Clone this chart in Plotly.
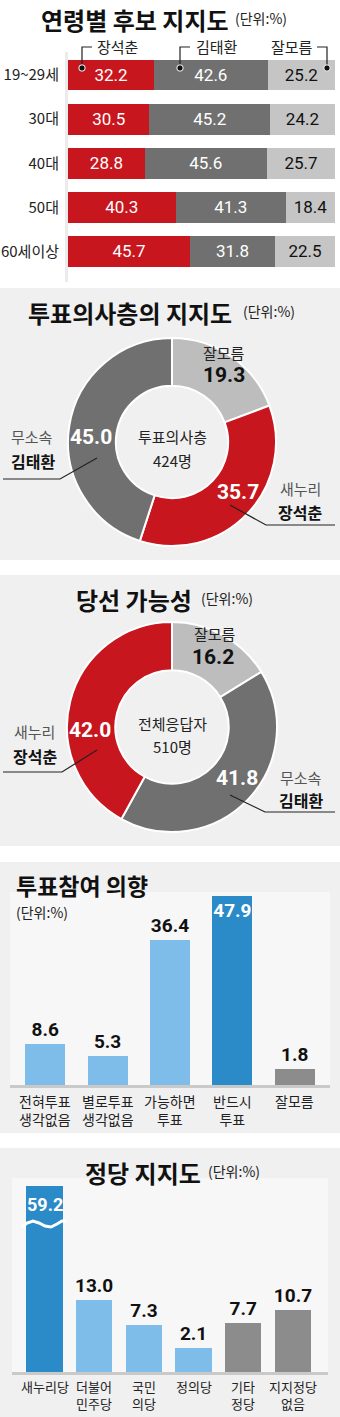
import plotly.graph_objects as go

W, H = 340, 1417
def px(x): return x / W
def py(y): return 1 - y / H

KR = "Noto Sans CJK KR"
NUM = "Roboto"

RED = "#c8161e"
DG = "#707070"
LG = "#c5c5c5"
PLG = "#bdbdbd"
LB = "#7ebcea"
DB = "#2b8ac8"
GR = "#8c8c8c"

# ---------------- data ----------------
age_groups = ["19~29세", "30대", "40대", "50대", "60세이상"]
jang_age = [32.2, 30.5, 28.8, 40.3, 45.7]
kim_age = [42.6, 45.2, 45.6, 41.3, 31.8]
unk_age = [25.2, 24.2, 25.7, 18.4, 22.5]
age_series = ["장석춘", "김태환", "잘모름"]

vote_labels = ["잘모름", "장석춘", "김태환"]
vote_values = [19.3, 35.7, 45.0]

win_labels = ["잘모름", "김태환", "장석춘"]
win_values = [16.2, 41.8, 42.0]

intent_cats = [["전혀투표", "생각없음"], ["별로투표", "생각없음"], ["가능하면", "투표"], ["반드시", "투표"], ["잘모름"]]
intent_vals = [8.6, 5.3, 36.4, 47.9, 1.8]

party_cats = [["새누리당"], ["더불어", "민주당"], ["국민", "의당"], ["정의당"], ["기타", "정당"], ["지지정당", "없음"]]
party_vals = [59.2, 13.0, 7.3, 2.1, 7.7, 10.7]

intent_keys = [" ".join(c) for c in intent_cats]
party_keys = [" ".join(c) for c in party_cats]

fig = go.Figure()

# ---------------- section 1: stacked horizontal bars ----------------
for name, vals, col, tcol in [(age_series[0], jang_age, RED, "white"),
                              (age_series[1], kim_age, DG, "white"),
                              (age_series[2], unk_age, LG, "#111")]:
    fig.add_trace(go.Bar(
        y=age_groups, x=vals, orientation="h", name=name,
        marker=dict(color=col, line=dict(width=0)), width=0.7,
        text=[f"{v:.1f}" for v in vals], textposition="inside",
        insidetextanchor="middle", constraintext="none", textangle=0,
        textfont=dict(family=NUM, size=17, color=tcol),
        xaxis="x", yaxis="y", showlegend=False, hoverinfo="skip"))

# ---------------- pies ----------------
C1 = (172, 442); R1 = 104
fig.add_trace(go.Pie(
    labels=vote_labels, values=vote_values, hole=0.54, sort=False,
    direction="clockwise", rotation=0,
    marker=dict(colors=[PLG, RED, DG], line=dict(color="white", width=2)),
    textinfo="none", showlegend=False, hoverinfo="skip",
    domain=dict(x=[px(C1[0] - R1), px(C1[0] + R1)], y=[py(C1[1] + R1), py(C1[1] - R1)])))

C2 = (172, 727); R2 = 105
fig.add_trace(go.Pie(
    labels=win_labels, values=win_values, hole=0.54, sort=False,
    direction="clockwise", rotation=0,
    marker=dict(colors=[PLG, DG, RED], line=dict(color="white", width=2)),
    textinfo="none", showlegend=False, hoverinfo="skip",
    domain=dict(x=[px(C2[0] - R2), px(C2[0] + R2)], y=[py(C2[1] + R2), py(C2[1] - R2)])))

# ---------------- section 4: vertical bars ----------------
Y0_4, S4 = -2.4, 3.75
B4, T4 = 1085, 880
fig.add_trace(go.Bar(
    x=intent_keys, y=[v - Y0_4 for v in intent_vals], base=Y0_4, width=0.64,
    marker=dict(color=[LB, LB, LB, DB, GR], line=dict(width=0)),
    text=[f"{v:.1f}" for v in intent_vals],
    textposition=["outside", "outside", "outside", "inside", "outside"],
    insidetextanchor="end", constraintext="none", textangle=0,
    textfont=dict(family=NUM, size=19, weight="bold"),
    insidetextfont=dict(family=NUM, size=19, color="white", weight="bold"),
    outsidetextfont=dict(family=NUM, size=19, color="#111", weight="bold"),
    xaxis="x2", yaxis="y2", showlegend=False, hoverinfo="skip"))

# ---------------- section 5: vertical bars (broken first bar) ----------------
Y0_5, S5 = -3.34, 4.4
B5, T5 = 1372, 1186
fig.add_trace(go.Bar(
    x=party_keys, y=[v - Y0_5 for v in party_vals], base=Y0_5, width=0.73,
    marker=dict(color=[DB, LB, LB, LB, GR, GR], line=dict(width=0)),
    text=[f"{v:.1f}" for v in party_vals],
    textposition=["none"] + ["outside"] * 5, constraintext="none", textangle=0,
    textfont=dict(family=NUM, size=19, color="#111", weight="bold"),
    outsidetextfont=dict(family=NUM, size=19, color="#111", weight="bold"),
    xaxis="x3", yaxis="y3", showlegend=False, hoverinfo="skip"))

fig.update_layout(
    width=W, height=H, margin=dict(l=0, r=0, t=0, b=0),
    paper_bgcolor="white", plot_bgcolor="rgba(0,0,0,0)",
    barmode="stack",
    xaxis=dict(domain=[px(68), px(335)], range=[0, 100], visible=False, fixedrange=True, anchor="y"),
    yaxis=dict(domain=[py(273.5), py(53)], range=[4.5, -0.5], showgrid=False, zeroline=False,
               showline=False, ticks="", ticklabelstandoff=8, anchor="x",
               tickfont=dict(family=KR, size=15, color="#222")),
    xaxis2=dict(domain=[px(14), px(326)], anchor="y2", showgrid=False, zeroline=False,
                showticklabels=False, ticks="", showline=False),
    yaxis2=dict(domain=[py(B4), py(T4)], range=[Y0_4, Y0_4 + (B4 - T4) / S4], visible=False, anchor="x2"),
    xaxis3=dict(domain=[px(18.5), px(319)], anchor="y3", showgrid=False, zeroline=False,
                showticklabels=False, ticks="", showline=False),
    yaxis3=dict(domain=[py(B5), py(T5)], range=[Y0_5, Y0_5 + (B5 - T5) / S5], visible=False, anchor="x3"),
)

shapes = []
def rect(x0, y0, x1, y1, color, layer="below"):
    shapes.append(dict(type="rect", xref="paper", yref="paper", x0=px(x0), x1=px(x1),
                       y0=py(y1), y1=py(y0), fillcolor=color, line=dict(width=0), layer=layer))
def line(pts, color="#222", width=1.2):
    d = "M " + " L ".join(f"{px(x):.5f},{py(y):.5f}" for x, y in pts)
    shapes.append(dict(type="path", xref="paper", yref="paper", path=d,
                       line=dict(color=color, width=width), layer="above"))
def dot(x, y, r=3.2):
    shapes.append(dict(type="circle", xref="paper", yref="paper", x0=px(x - r), x1=px(x + r),
                       y0=py(y + r), y1=py(y - r), fillcolor="#111",
                       line=dict(color="white", width=1), layer="above"))

# section backgrounds
rect(0, 288, 340, 560, "#f0f0f0")
rect(0, 575, 340, 846, "#f0f0f0")
rect(0, 862, 340, 1133, "#f0f0f0")
rect(0, 1148, 340, 1417, "#f0f0f0")
# lighter plot zones
rect(10, 892, 330, B4, "#f7f7f7")
rect(12, 1178, 328, B5, "#f7f7f7")
# baseline shadows
rect(10, B4, 330, B4 + 3, "#c9c9c9")
rect(12, B5, 328, B5 + 3, "#c9c9c9")
# left shadow section 1
rect(65, 52, 68, 282, "#ebebeb")

# section 1 legend brackets
line([(92, 47), (82, 47), (82, 68)])
dot(82, 68)
line([(190, 47), (180, 47), (180, 68)])
dot(180, 68)
line([(317, 47), (327, 47), (327, 68)])
dot(327, 68)

# pie leader lines
line([(230, 505), (266, 525), (335, 525)], "#222", 1.2)
line([(3, 479), (60, 479), (97, 458)], "#222", 1.2)
line([(3, 772), (62, 772), (97, 750)], "#222", 1.2)
line([(230, 795), (265, 812), (335, 812)], "#222", 1.2)

# wave break on first party bar
wave = [(22, 1227), (27, 1223), (33, 1221), (39, 1223), (45, 1226), (51, 1227), (57, 1224), (62, 1221), (66, 1221)]
d = "M " + " L ".join(f"{px(x):.5f},{py(y):.5f}" for x, y in wave)
shapes.append(dict(type="path", xref="paper", yref="paper", path=d,
                   line=dict(color="white", width=3), layer="above"))

fig.update_layout(shapes=shapes)

anns = []
def ann(text, x, y, size, color="#222", family=KR, xanchor="center", bold=False):
    anns.append(dict(text=f"<b>{text}</b>" if bold else text, x=px(x), y=py(y), xref="paper", yref="paper",
                     xanchor=xanchor, yanchor="middle", showarrow=False, align="center",
                     font=dict(family=family, size=size, color=color)))

# titles
ann("연령별 후보 지지도", 231, 19, 24, "#111", bold=True, xanchor="right")
ann("(단위:%)", 233, 18, 14, "#222", xanchor="left")
ann("투표의사층의 지지도", 234, 312, 24, "#111", bold=True, xanchor="right")
ann("(단위:%)", 241, 311, 14, "#222", xanchor="left")
ann("당선 가능성", 194, 599, 24, "#111", bold=True, xanchor="right")
ann("(단위:%)", 199, 598, 14, "#222", xanchor="left")
ann("투표참여 의향", 14, 885, 23, "#111", bold=True, xanchor="left")
ann("(단위:%)", 14, 912, 14, "#222", xanchor="left")
ann("정당 지지도", 203, 1172, 24, "#111", bold=True, xanchor="right")
ann("(단위:%)", 206, 1171, 14, "#222", xanchor="left")

# section 1 legend labels
ann(age_series[0], 95, 46, 15, xanchor="left")
ann(age_series[1], 194, 46, 15, xanchor="left")
ann(age_series[2], 315, 46, 15, xanchor="right")

# pie 1 labels
ann("잘모름", 224, 352, 15)
ann(f"{vote_values[0]:.1f}", 224, 375, 21, "#111", NUM, bold=True)
ann(f"{vote_values[1]:.1f}", 238, 492, 21, "white", NUM, bold=True)
ann("새누리", 300, 489, 15, "#555")
ann(vote_labels[1], 300, 512, 16, "#111", bold=True)
ann(f"{vote_values[2]:.1f}", 91, 437, 21, "white", NUM, bold=True)
ann("무소속", 32, 437, 15, "#555")
ann(vote_labels[2], 33, 461, 16, "#111", bold=True)
ann("투표의사층", 172, 436, 15, "#222")
ann("424명", 172, 460, 15, "#222")

# pie 2 labels
ann("잘모름", 215, 633, 15)
ann(f"{win_values[0]:.1f}", 213, 657, 21, "#111", NUM, bold=True)
ann(f"{win_values[2]:.1f}", 90, 730, 21, "white", NUM, bold=True)
ann("새누리", 34, 731, 15, "#555")
ann(win_labels[2], 35, 756, 16, "#111", bold=True)
ann(f"{win_values[1]:.1f}", 237, 778, 21, "white", NUM, bold=True)
ann("무소속", 301, 777, 15, "#555")
ann(win_labels[1], 301, 800, 16, "#111", bold=True)
ann("전체응답자", 172, 723, 15, "#222")
ann("510명", 172, 746, 15, "#222")

# category labels for vertical bar sections (one multi-line text per category)
for key, lines in zip(intent_keys, intent_cats):
    anns.append(dict(text="<br>".join(lines), x=key, xref="x2", y=0, yref="y2 domain",
                     yanchor="top", yshift=-4, showarrow=False, align="center",
                     font=dict(family=KR, size=14, color="#222")))
for key, lines in zip(party_keys, party_cats):
    anns.append(dict(text="<br>".join(lines), x=key, xref="x3", y=0, yref="y3 domain",
                     yanchor="top", yshift=-3, showarrow=False, align="center",
                     font=dict(family=KR, size=13, color="#222")))
# broken bar value
anns.append(dict(text=f"<b>{party_vals[0]:.1f}</b>", x=party_keys[0], xref="x3", y=1, yref="y3 domain",
                 yanchor="top", yshift=-6, showarrow=False,
                 font=dict(family=NUM, size=18, color="white")))

fig.update_layout(annotations=anns)
fig.write_html("out.html")
